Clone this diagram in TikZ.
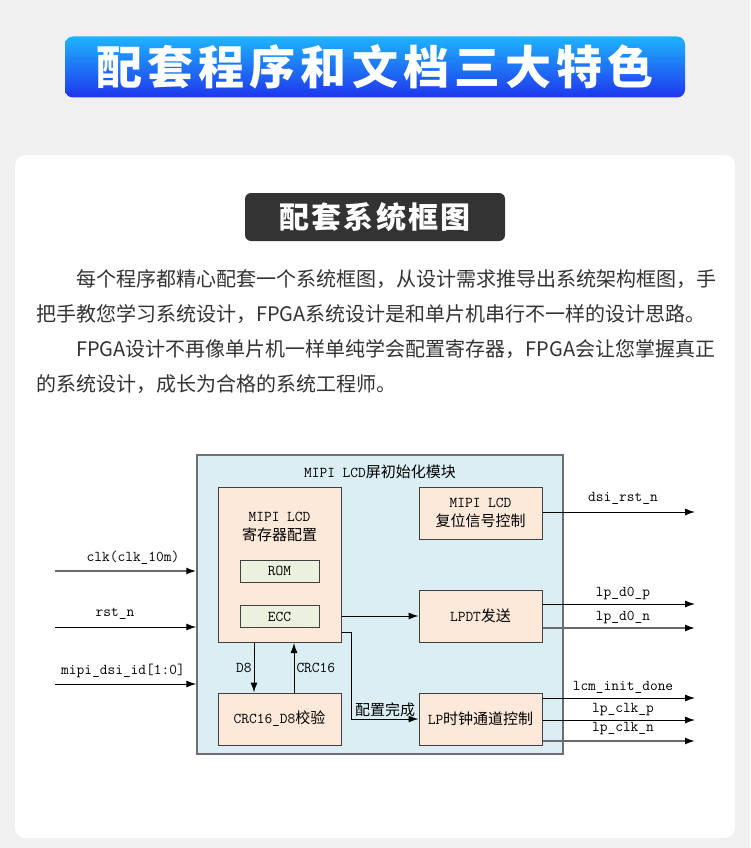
\documentclass[tikz,border=0pt]{standalone}
\usepackage{fontspec}
\setmainfont{Noto Sans CJK SC}
\usetikzlibrary{positioning,calc,arrows.meta}

\definecolor{pagebg}{HTML}{F0F0F0}
\definecolor{bannertop}{HTML}{1EB4FD}
\definecolor{bannerbot}{HTML}{1F35EE}
\definecolor{tagbg}{HTML}{333333}
\definecolor{paratext}{HTML}{333333}
\definecolor{modfill}{HTML}{DAEEF3}
\definecolor{modline}{HTML}{6E6E6E}
\definecolor{blkfill}{HTML}{FDE9D9}
\definecolor{memfill}{HTML}{EBF1DE}
\definecolor{blkline}{HTML}{404040}
\definecolor{wiregrey}{HTML}{6A6A6A}

\newcommand\mn[1]{{\ttfamily\fontsize{15}{17}\selectfont #1}}

\begin{document}
\begin{tikzpicture}[x=1pt, y=-1pt, >={Latex[length=10pt,width=7pt]}]
	\tikzstyle{banner} = [rounded corners=8pt, minimum width=620pt, minimum height=61pt, top color=bannertop, bottom color=bannerbot, text=white, font={\fontsize{46}{50}\selectfont\bfseries\addfontfeature{LetterSpace=11}}];
	\tikzstyle{card} = [fill=white, rounded corners=10pt, minimum width=720pt, minimum height=683pt];
	\tikzstyle{tag} = [fill=tagbg, rounded corners=6pt, minimum width=260pt, minimum height=48pt, text=white, font={\fontsize{30}{34}\selectfont\bfseries\addfontfeature{LetterSpace=7}}];
	\tikzstyle{para} = [anchor=west, inner sep=0pt, text=paratext, font={\fontsize{20}{24}\selectfont}];
	\tikzstyle{module} = [draw=modline, line width=1.5pt, fill=modfill, minimum width=366pt, minimum height=299pt];
	\tikzstyle{block} = [draw=blkline, line width=1pt, fill=blkfill, minimum width=123pt, minimum height=52pt, align=center, font={\fontsize{15}{19}\selectfont}];
	\tikzstyle{mem} = [draw=blkline, line width=1pt, fill=memfill, minimum width=79pt, minimum height=22pt];
	\tikzstyle{caption} = [font={\fontsize{15}{19}\selectfont}, align=center];
	\tikzstyle{sig} = [font={\ttfamily\fontsize{15}{17}\selectfont}, inner sep=2pt];
	\tikzstyle{wire} = [->, line width=1pt];
	\tikzstyle{plain} = [draw=black];
	\tikzstyle{dim} = [draw=wiregrey, line width=1.6pt, -{Latex[length=10pt,width=7pt,color=black]}];

	\def \paralines {每个程序都精心配套一个系统框图，从设计需求推导出系统架构框图，手/76/279,
		把手教您学习系统设计，FPGA系统设计是和单片机串行不一样的设计思路。/36/314,
		FPGA设计不再像单片机一样单纯学会配置寄存器，FPGA会让您掌握真正/76/349,
		的系统设计，成长为合格的系统工程师。/36/384}
	\def \inputs {clk(clk\_10m)/571/133/dim, rst\_n/627/115/plain, mipi\_dsi\_id[1:0]/684/123/plain}
	\def \outputs {dsi\_rst\_n/rstctl/512/498/plain, lp\_d0\_p/lpdt/604/593/plain,
		lp\_d0\_n/lpdt/628/617/dim, lcm\_init\_done/lpclk/698/687/plain,
		lp\_clk\_p/lpclk/720/710/plain, lp\_clk\_n/lpclk/741/729/dim}

	\fill[pagebg] (0,0) rectangle (750,848);
	\useasboundingbox (0,0) rectangle (750,848);

	% heading and text
	\node[banner] (banner) at (375,67) {配套程序和文档三大特色};
	\node[card] (card) at (375,496.5) {};
	\node[tag] (tag) at (375,217) {配套系统框图};
	\foreach \t/\x/\y [count=\i] in \paralines {
		\node[para] (line\i) at (\x,\y) {\t};
	}

	% module and blocks
	\node[module] (module) at (380,604.5) {};
	\node[caption] (modtitle) at (380,472) {\mn{MIPI LCD}屏初始化模块};
	\node[block, minimum height=155pt, anchor=north] (cfg) at (279.5,487) {};
	\node[caption] (cfgname) at (279.5,526.5) {\mn{MIPI LCD}\\寄存器配置};
	\node[mem] (rom) at (279.5,571) {\mn{ROM}};
	\node[mem] (ecc) at (279.5,616.5) {\mn{ECC}};
	\node[block] (rstctl) at (480.5,513) {\mn{MIPI LCD}\\复位信号控制};
	\node[block] (lpdt) at (480.5,616) {\mn{LPDT}发送};
	\node[block] (crc) at (279.5,719) {\mn{CRC16\_D8}校验};
	\node[block] (lpclk) at (480.5,719) {\mn{LP}时钟通道控制};

	% inner connectors
	\draw[wire] (cfg.east |- lpdt.west) -- (lpdt.west);
	\draw[wire] ($(cfg.east |- lpdt.west)+(0,16)$) -- ++(10,0) |- (lpclk.west)
		node[caption, pos=0.75, above, inner sep=2pt] (donelbl) {配置完成};
	\draw[wire] ([xshift=-25.5pt]cfg.south) -- ([xshift=-25.5pt]crc.north)
		node[sig, midway, left] (d8lbl) {D8};
	\draw[wire] ([xshift=14.5pt]crc.north) -- ([xshift=14.5pt]cfg.south)
		node[sig, midway, right] (crclbl) {CRC16};

	% ports
	\foreach \t/\y/\lx/\c [count=\i] in \inputs {
		\coordinate (in\i) at (55,\y);
		\draw[wire, \c] (in\i) -- (in\i -| module.west);
		\node[sig] (inlbl\i) at (\lx,\y-13) {\t};
	}
	\foreach \t/\src/\y/\ly/\c [count=\i] in \outputs {
		\coordinate (out\i) at (695,\y);
		\draw[wire, \c] (\src.east |- out\i) -- (out\i);
		\node[sig] (outlbl\i) at (623,\ly) {\t};
	}
\end{tikzpicture}
\end{document}
